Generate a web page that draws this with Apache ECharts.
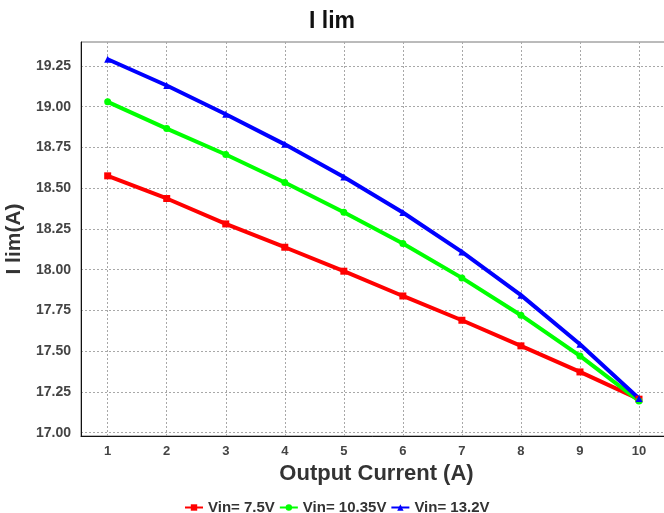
<!DOCTYPE html>
<html>
<head>
<meta charset="utf-8">
<script src="https://cdn.jsdelivr.net/npm/echarts@6/dist/echarts.min.js"></script>
<style>html,body{margin:0;padding:0;background:#fff;}#c{width:664px;height:513px;}</style>
</head>
<body>
<div id="c"></div>
<script>
var categories = [1, 2, 3, 4, 5, 6, 7, 8, 9, 10];
var vin75 = [18.576, 18.437, 18.281, 18.138, 17.991, 17.839, 17.690, 17.533, 17.373, 17.206];
var vin1035 = [19.030, 18.866, 18.707, 18.535, 18.353, 18.161, 17.950, 17.721, 17.471, 17.195];
var vin132 = [19.291, 19.130, 18.954, 18.769, 18.569, 18.351, 18.109, 17.844, 17.543, 17.210];
var yTicks = [17.00, 17.25, 17.50, 17.75, 18.00, 18.25, 18.50, 18.75, 19.00, 19.25];
var seriesNames = ['Vin= 7.5V', 'Vin= 10.35V', 'Vin= 13.2V'];

function pairs(arr) { return categories.map(function (c, i) { return [c, arr[i]]; }); }

var FONT = '"Liberation Sans", Arial, sans-serif';
var chart = echarts.init(document.getElementById('c'));
var gridLine = { show: true, lineStyle: { color: '#a8a8a8', width: 1, type: [2, 2] } };

function mkSeries(name, data, color, symbol) {
  return {
    name: name, type: 'line', data: pairs(data),
    symbol: symbol, symbolSize: 7, showSymbol: true,
    lineStyle: { color: color, width: 4 },
    itemStyle: { color: color },
    emphasis: { disabled: true },
    animation: false
  };
}

chart.setOption({
  animation: false,
  title: {
    text: 'I lim', left: 'center', top: 5,
    textStyle: { fontFamily: FONT, fontSize: 23, fontWeight: 'bold', color: '#111' }
  },
  grid: { left: 81, top: 42, right: -8, bottom: 77, show: true, borderColor: '#777', borderWidth: 1,
    outerBoundsMode: 'none', containLabel: false },
  legend: {
    left: 179, top: 495, itemWidth: 18, itemHeight: 8, itemGap: 4,
    textStyle: { fontFamily: FONT, fontSize: 15, fontWeight: 'bold', color: '#333' },
    data: seriesNames
  },
  xAxis: {
    type: 'value', min: 0.548, max: 10.559,
    name: 'Output Current (A)', nameLocation: 'middle', nameGap: 23,
    nameTextStyle: { fontFamily: FONT, fontSize: 22, fontWeight: 'bold', color: '#333' },
    axisLine: { show: true, onZero: false, lineStyle: { color: '#111', width: 1 } },
    axisTick: { show: false, customValues: categories },
    axisLabel: { customValues: categories, margin: 9, fontFamily: FONT, fontSize: 13, fontWeight: 'bold', color: '#444' },
    splitLine: gridLine
  },
  yAxis: {
    type: 'value', min: 16.98, max: 19.397,
    name: 'I lim(A)', nameLocation: 'middle', nameGap: 49,
    nameTextStyle: { fontFamily: FONT, fontSize: 21, fontWeight: 'bold', color: '#333' },
    axisLine: { show: true, lineStyle: { color: '#111', width: 1 } },
    axisTick: { show: false, customValues: yTicks },
    axisLabel: { customValues: yTicks, margin: 10, fontFamily: FONT, fontSize: 14, fontWeight: 'bold', color: '#444',
      formatter: function (v) { return v.toFixed(2); } },
    splitLine: gridLine
  },
  series: [
    mkSeries(seriesNames[0], vin75, '#ff0000', 'rect'),
    mkSeries(seriesNames[1], vin1035, '#00ff00', 'circle'),
    mkSeries(seriesNames[2], vin132, '#0000ff', 'triangle')
  ]
});
</script>
</body>
</html>
